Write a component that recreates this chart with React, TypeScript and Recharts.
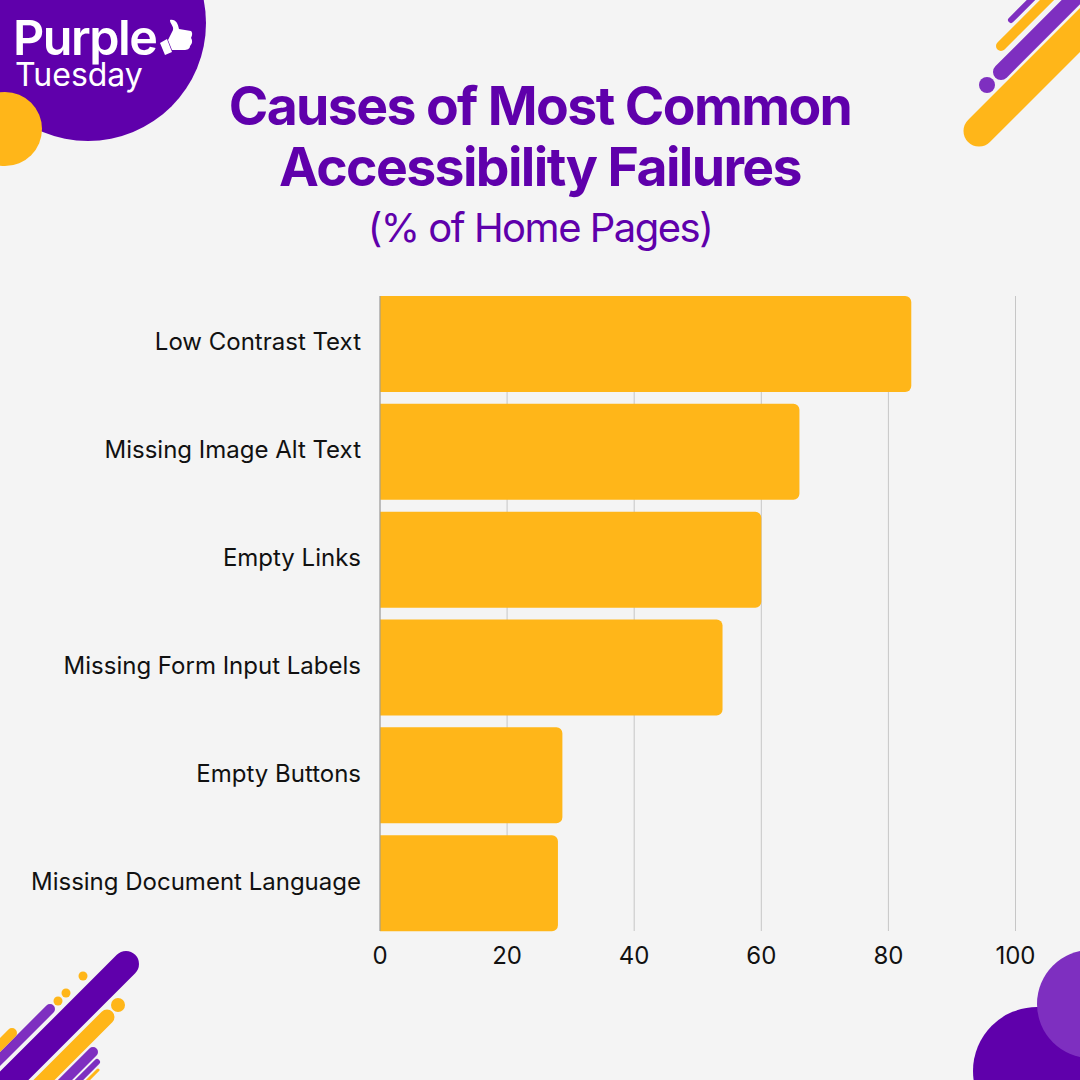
import { Bar, BarChart, CartesianGrid, XAxis, YAxis } from "recharts";

const causes = [
  "Low Contrast Text",
  "Missing Image Alt Text",
  "Empty Links",
  "Missing Form Input Labels",
  "Empty Buttons",
  "Missing Document Language",
];
const failures = [83.6, 66, 60, 53.9, 28.7, 28];
const xTicks = [0, 20, 40, 60, 80, 100];

const PURPLE = "#5f00ab";
const LIGHT_PURPLE = "#7e2fc0";
const YELLOW = "#ffb619";
const FONT = "Inter, sans-serif";

const data = causes.map((name, i) => ({ name, value: failures[i] }));

// corner artwork, not data
function Stripe({ d, color, w }: { d: number[]; color: string; w: number }) {
  return <line x1={d[0]} y1={d[1]} x2={d[2]} y2={d[3]} stroke={color} strokeWidth={w} strokeLinecap="round" />;
}

function Decorations() {
  return (
    <svg width={1080} height={1080} style={{ position: "absolute", left: 0, top: 0 }}>
      <circle cx={88} cy={23} r={118} fill={PURPLE} />
      <circle cx={5} cy={129} r={37} fill={YELLOW} />
      <text x={13} y={55} fontFamily={FONT} fontSize={48.5} fontWeight={600} fill="#fff" letterSpacing={-1.5}>Purple</text>
      <text x={15} y={86} fontFamily={FONT} fontSize={32} fontWeight={400} fill="#fff" letterSpacing={0}>Tuesday</text>
      <path
        d="M168 40 L173 30 C174 26 170 24 170 20 C176 19 178 24 179 29 L191 31 C193 33 192 36 191 38 C193 41 192 44 190 46 C190 49 187 50 184 50 L172 50 Z"
        fill="#fff"
      />
      <path d="M160 43 L167 39 L172 52 L165 55 Z" fill="#fff" />

      <Stripe d={[979, 131, 1110, 0]} color={YELLOW} w={31} />
      <Stripe d={[1001, 72, 1075, -2]} color={LIGHT_PURPLE} w={16} />
      <Stripe d={[1001, 46, 1052, -5]} color={YELLOW} w={10} />
      <Stripe d={[1011, 20, 1035, -4]} color={LIGHT_PURPLE} w={6} />
      <circle cx={987} cy={85} r={8} fill={LIGHT_PURPLE} />

      <Stripe d={[126, 964, -20, 1110]} color={PURPLE} w={26} />
      <Stripe d={[50, 1009, -10, 1069]} color={LIGHT_PURPLE} w={10} />
      <Stripe d={[12, 1033, -10, 1055]} color={YELLOW} w={10} />
      <Stripe d={[107, 1017, 36, 1088]} color={YELLOW} w={15} />
      <Stripe d={[93, 1052, 60, 1085]} color={LIGHT_PURPLE} w={10} />
      <Stripe d={[97, 1062, 76, 1083]} color={LIGHT_PURPLE} w={6} />
      <Stripe d={[98, 1070, 86, 1082]} color={YELLOW} w={3} />
      <circle cx={118} cy={1005} r={7} fill={YELLOW} />
      <circle cx={83} cy={976} r={4.5} fill={YELLOW} />
      <circle cx={66} cy={993} r={4.5} fill={YELLOW} />
      <circle cx={58} cy={1001} r={4.5} fill={YELLOW} />

      <circle cx={1037} cy={1071} r={64} fill={PURPLE} />
      <circle cx={1091} cy={1004} r={54} fill={LIGHT_PURPLE} />

      <g fontFamily={FONT} textAnchor="middle" fill={PURPLE}>
        <text x={540} y={125} fontSize={53.5} fontWeight={700} letterSpacing={-1.6}>Causes of Most Common</text>
        <text x={540} y={186} fontSize={53.5} fontWeight={700} letterSpacing={-1.6}>Accessibility Failures</text>
        <text x={540} y={242} fontSize={40} fontWeight={400} letterSpacing={-1.5}>(% of Home Pages)</text>
      </g>
    </svg>
  );
}

export default function App() {
  return (
    <div style={{ position: "absolute", left: 0, top: 0, width: 1080, height: 1080, background: "#f4f4f4", overflow: "hidden" }}>
      <Decorations />
      <div style={{ position: "absolute", left: 0, top: 0 }}>
        <BarChart
          width={1080}
          height={1080}
          layout="vertical"
          data={data}
          margin={{ top: 296, right: 64.5, left: 0, bottom: 89 }}
          barCategoryGap={6}
        >
          <CartesianGrid horizontal={false} stroke="#c6c6c6" strokeWidth={1} />
          <XAxis
            type="number"
            domain={[0, 100]}
            ticks={xTicks}
            axisLine={false}
            tickLine={false}
            height={60}
            tickMargin={10}
            tick={{ fontSize: 24, fontFamily: FONT, fill: "#111" }}
          />
          <YAxis
            type="category"
            dataKey="name"
            width={380}
            interval={0}
            padding={{ top: -6, bottom: -6 }}
            axisLine={{ stroke: "#9a9a9a", strokeWidth: 1 }}
            tickLine={false}
            tickMargin={13}
            tick={{ fontSize: 24, fontFamily: FONT, fill: "#111", dy: -2 }}
          />
          <Bar dataKey="value" fill={YELLOW} radius={[0, 6, 6, 0]} isAnimationActive={false} />
        </BarChart>
      </div>
    </div>
  );
}
